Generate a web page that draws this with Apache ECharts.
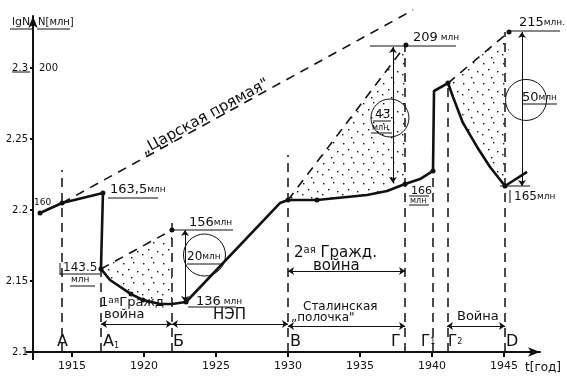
<!DOCTYPE html>
<html><head><meta charset="utf-8">
<script src="https://cdn.jsdelivr.net/npm/echarts@6/dist/echarts.min.js"></script>
<style>html,body{margin:0;padding:0;background:#fff}#c{width:567px;height:384px}</style>
</head><body><div id="c"></div>
<script>
// ---- data (year, lg N) ----
const curveYears = [1912.78,1914.31,1917.15,1917.01,1917.64,1919.10,1919.93,1921.11,1921.94,1922.92,1929.44,1930.0,1932.01,1935.49,1936.88,1938.13,1939.17,1940.07,1940.14,1941.11,1941.46,1942.15,1943.13,1944.03,1945.07,1946.60];
const curveLg    = [2.1979,2.2049,2.2120,2.1585,2.1507,2.1408,2.1366,2.1338,2.1338,2.1352,2.2049,2.2070,2.2070,2.2106,2.2134,2.2183,2.2218,2.2275,2.2838,2.2894,2.2796,2.2613,2.2444,2.2303,2.2169,2.2268];
const dotYears = [1912.78,1914.31,1917.15,1917.01,1919.10,1919.93,1922.92,1921.94,1930.0,1932.01,1938.13,1940.07,1941.11,1945.07,1938.19,1945.35];
const dotLg    = [2.1979,2.2049,2.2120,2.1585,2.1408,2.1366,2.1352,2.1859,2.2070,2.2070,2.2183,2.2275,2.2894,2.2169,2.3162,2.3254];
// projection ("would-be") lines: [year1, lg1, year2, lg2]
const tsarLine = [1914.31,2.2049,1938.68,2.3408];
const gapLines = [[1917.01,2.1585,1921.94,2.1859],[1930.0,2.2070,1938.19,2.3162],[1941.11,2.2894,1945.35,2.3254]];
// event (vertical dashed) lines: year, top lg
const eventYears = [1914.31,1917.01,1921.94,1930.0,1938.13,1940.07,1941.11,1945.07];
const eventTops  = [2.2282,2.1585,2.1950,2.2387,2.3162,2.2275,2.2894,2.3254];
// period arrows: [from, to, lg level]
const periodArrows = [[1917.01,1921.94,2.1197],[1921.94,1930.0,2.1197],[1930.0,1938.13,2.1183],[1930.0,1938.13,2.1570],[1941.04,1945.07,2.1183]];
// gap arrows: [year, top lg, bottom lg]
const gapArrows = [[1922.85,2.1859,2.1352],[1937.29,2.3148,2.2190],[1946.25,2.3254,2.2169]];
// loss circles: [year, lg, label]
const lossCircles = [[1924.20,2.1683,'20'],[1937.08,2.2648,'43'],[1946.53,2.2775,'50']];
// stippled loss regions
const lossRegions = [
  [[1917.01,2.1585],[1921.94,2.1859],[1921.94,2.1338],[1921.11,2.1338],[1919.93,2.1366],[1919.10,2.1408],[1917.64,2.1507]],
  [[1930.0,2.2070],[1938.19,2.3162],[1938.13,2.2183],[1936.88,2.2134],[1935.49,2.2106],[1932.01,2.2070]],
  [[1941.11,2.2894],[1945.35,2.3254],[1945.07,2.2169],[1944.03,2.2303],[1943.13,2.2444],[1942.15,2.2613],[1941.46,2.2796]]
];
const xTicks = [1915,1920,1925,1930,1935,1940,1945];
const yTicks = [2.1,2.15,2.2,2.25,2.3];

// ---- stipple pattern ----
const pc = document.createElement('canvas'); pc.width = 20; pc.height = 20;
const g = pc.getContext('2d'); g.fillStyle = '#111';
[[3,3],[13,2],[8,9],[17,11],[2,14],[11,17]].forEach(p=>g.fillRect(p[0],p[1],1.4,1.4));

const F = 'DejaVu Sans';
const chart = echarts.init(document.getElementById('c'), null, {renderer:'canvas'});

function T(x,y,text,size,extra){return {type:'text',x:x,y:y,silent:true,style:Object.assign({text:text,font:(size||12)+'px '+F,fill:'#111',verticalAlign:'middle',align:'left'},extra||{})};}
function L(x1,y1,x2,y2,w){return {type:'line',silent:true,shape:{x1:x1,y1:y1,x2:x2,y2:y2},style:{stroke:'#111',lineWidth:w||1}};}

const rich = {b:{font:'13px '+F,fill:'#111'},s:{font:'9px '+F,fill:'#111'},sup:{font:'9px '+F,fill:'#111',verticalAlign:'top'}};
function R(x,y,text,extra){return {type:'text',x:x,y:y,silent:true,style:Object.assign({text:text,rich:rich,verticalAlign:'middle',align:'left',font:'13px '+F,fill:'#111'},extra||{})};}

const graphics = [
  T(12,22,'lgN',11), L(10,29,33,29), T(38,22,'N[млн]',10), L(37,29,70,29),
  L(12,72,30,72),
  L(26,352,33,352,2), L(33,352,33,360,2),
  T(39,68,'200',10),
  T(34,203,'160',9),
  R(110,190,'{b|163,5}{s|млн}'), L(108,198,158,198),
  T(63,268,'143.5',12), L(60,274,100,274), L(60,263,60,275),
  T(71,280,'млн',9), L(70,286,95,286),
  R(100,303,'{b|1}{sup|ая}{b|Гражд}',{font:'13px '+F}),
  T(104,315,'война',13),
  T(213,315,'НЭП',15),
  T(303,307,'Сталинская',12),
  T(291,318,'„полочка"',12),
  R(294,253,'{big|2}{sup|ая}{big| Гражд.}',{rich:{big:{font:'15px '+F,fill:'#111'},sup:{font:'10px '+F,fill:'#111',verticalAlign:'top'}}}),
  T(313,266,'война',15),
  T(457,317,'Война',13),
  T(57,342,'А',16), R(103,342,'{L|А}{sub|1}',{rich:{L:{font:'16px '+F,fill:'#111'},sub:{font:'8px '+F,fill:'#111',verticalAlign:'bottom'}}}),
  T(173,342,'Б',16), T(290,342,'В',16), T(391,342,'Г',16),
  R(421,342,'{L|Г}{sub|1}',{rich:{L:{font:'15px '+F,fill:'#111'},sub:{font:'8px '+F,fill:'#111'}}}),
  R(448,342,'{L|Г}{sub|2}',{rich:{L:{font:'15px '+F,fill:'#111'},sub:{font:'8px '+F,fill:'#111'}}}),
  T(506,342,'D',16),
  R(196,302,'{b|136}{s| млн}'), L(188,307,236,307),
  R(189,223,'{b|156}{s|млн}'), L(174,230,233,230),
  R(187,257,'{b|20}{s|млн}',{rich:{b:{font:'12px '+F,fill:'#111'},s:{font:'9px '+F,fill:'#111'}}}), L(187,264,222,264),
  T(411,191,'166',11), L(409,196,429,196), T(410,201,'млн',8), L(409,205,429,205),
  R(514,197,'{b|165}{s|млн}',{rich:{b:{font:'12px '+F,fill:'#111'},s:{font:'9px '+F,fill:'#111'}}}), L(510,190,510,203),
  R(413,38,'{b|209}{s| млн}',{rich:{b:{font:'13px '+F,fill:'#111'},s:{font:'9px '+F,fill:'#111'}}}), L(370,46,456,46),
  R(519,23,'{b|215}{s|млн.}',{rich:{b:{font:'13px '+F,fill:'#111'},s:{font:'9px '+F,fill:'#111'}}}), L(508,31,560,31),
  T(375,115,'43',12), L(373,121,391,121), T(372,128,'млн',8), L(371,133,392,133),
  R(522,98,'{b|50}{s|млн}',{rich:{b:{font:'13px '+F,fill:'#111'},s:{font:'9px '+F,fill:'#111'}}}), L(522,104,557,104),
  L(500,186,530,186),
  T(525,368,'t[год]',12),
  {type:'text',x:205,y:117,rotation:0.50,silent:true,style:{text:'„Царская прямая"',font:'15px '+F,fill:'#111',align:'center',verticalAlign:'middle'}}
];

const option = {
  animation:false,
  backgroundColor:'#fff',
  grid:{left:33,right:27,top:16,bottom:32,containLabel:false},
  xAxis:{type:'value',min:1912.2917,max:1947.5,
    axisLine:{show:true,onZero:false,symbol:['none','arrow'],symbolSize:[7,12],lineStyle:{color:'#111',width:2}},
    axisTick:{show:true,length:5,customValues:xTicks,lineStyle:{color:'#111',width:2}},
    axisLabel:{customValues:xTicks,color:'#111',fontSize:11,fontFamily:F,margin:9,formatter:v=>String(v)},
    splitLine:{show:false}},
  yAxis:{type:'value',min:2.1,max:2.33662,
    axisLine:{show:true,onZero:false,symbol:['none','arrow'],symbolSize:[7,12],lineStyle:{color:'#111',width:2}},
    axisTick:{show:true,length:3,customValues:yTicks,lineStyle:{color:'#111',width:2}},
    axisLabel:{customValues:yTicks,color:'#111',fontSize:10,fontFamily:F,margin:5,formatter:v=>String(v)},
    splitLine:{show:false}},
  graphic:graphics,
  series:[
    {type:'custom',coordinateSystem:'cartesian2d',silent:true,z:1,
     data:lossRegions.map((r,i)=>[r[0][0],r[0][1],i]),
     renderItem:function(params,api){
       const reg = lossRegions[params.dataIndex];
       return {type:'polygon',shape:{points:reg.map(p=>api.coord(p))},style:{fill:{image:pc,repeat:'repeat'},stroke:null}};
     }},
    {type:'lines',coordinateSystem:'cartesian2d',silent:true,clip:false,z:2,symbol:['none','none'],
     lineStyle:{color:'#111',opacity:1,width:1.6,type:[9,7]},
     data:[{coords:[[tsarLine[0],tsarLine[1]],[tsarLine[2],tsarLine[3]]]}].concat(gapLines.map(a=>({coords:[[a[0],a[1]],[a[2],a[3]]]})))},
    {type:'lines',coordinateSystem:'cartesian2d',silent:true,clip:false,z:2,symbol:['none','none'],
     lineStyle:{color:'#111',opacity:1,width:1.5,type:[9,6]},
     data:eventYears.map((y,i)=>({coords:[[y,2.1],[y,eventTops[i]]]}))},
    {type:'lines',coordinateSystem:'cartesian2d',silent:true,clip:false,z:3,symbol:['arrow','arrow'],symbolSize:[6,6],
     lineStyle:{color:'#111',opacity:1,width:1},
     data:periodArrows.map(a=>({coords:[[a[0],a[2]],[a[1],a[2]]]})).concat(gapArrows.map(a=>({coords:[[a[0],a[1]],[a[0],a[2]]]})))},
    {type:'line',silent:true,clip:false,z:4,symbol:'none',smooth:false,
     lineStyle:{color:'#111',width:2.6},
     data:curveYears.map((y,i)=>[y,curveLg[i]])},
    {type:'scatter',silent:true,clip:false,z:5,symbolSize:5,itemStyle:{color:'#111',opacity:1},
     data:dotYears.map((y,i)=>[y,dotLg[i]])},
    {type:'scatter',silent:true,clip:false,z:5,symbol:'circle',
     symbolSize:function(v){return v[2]==='20'?42:(v[2]==='43'?38:41);},
     itemStyle:{color:'rgba(255,255,255,0)',borderColor:'#111',borderWidth:1,opacity:1},
     data:lossCircles.map(c=>[c[0],c[1],c[2]])}
  ]
};
chart.setOption(option);
</script></body></html>
